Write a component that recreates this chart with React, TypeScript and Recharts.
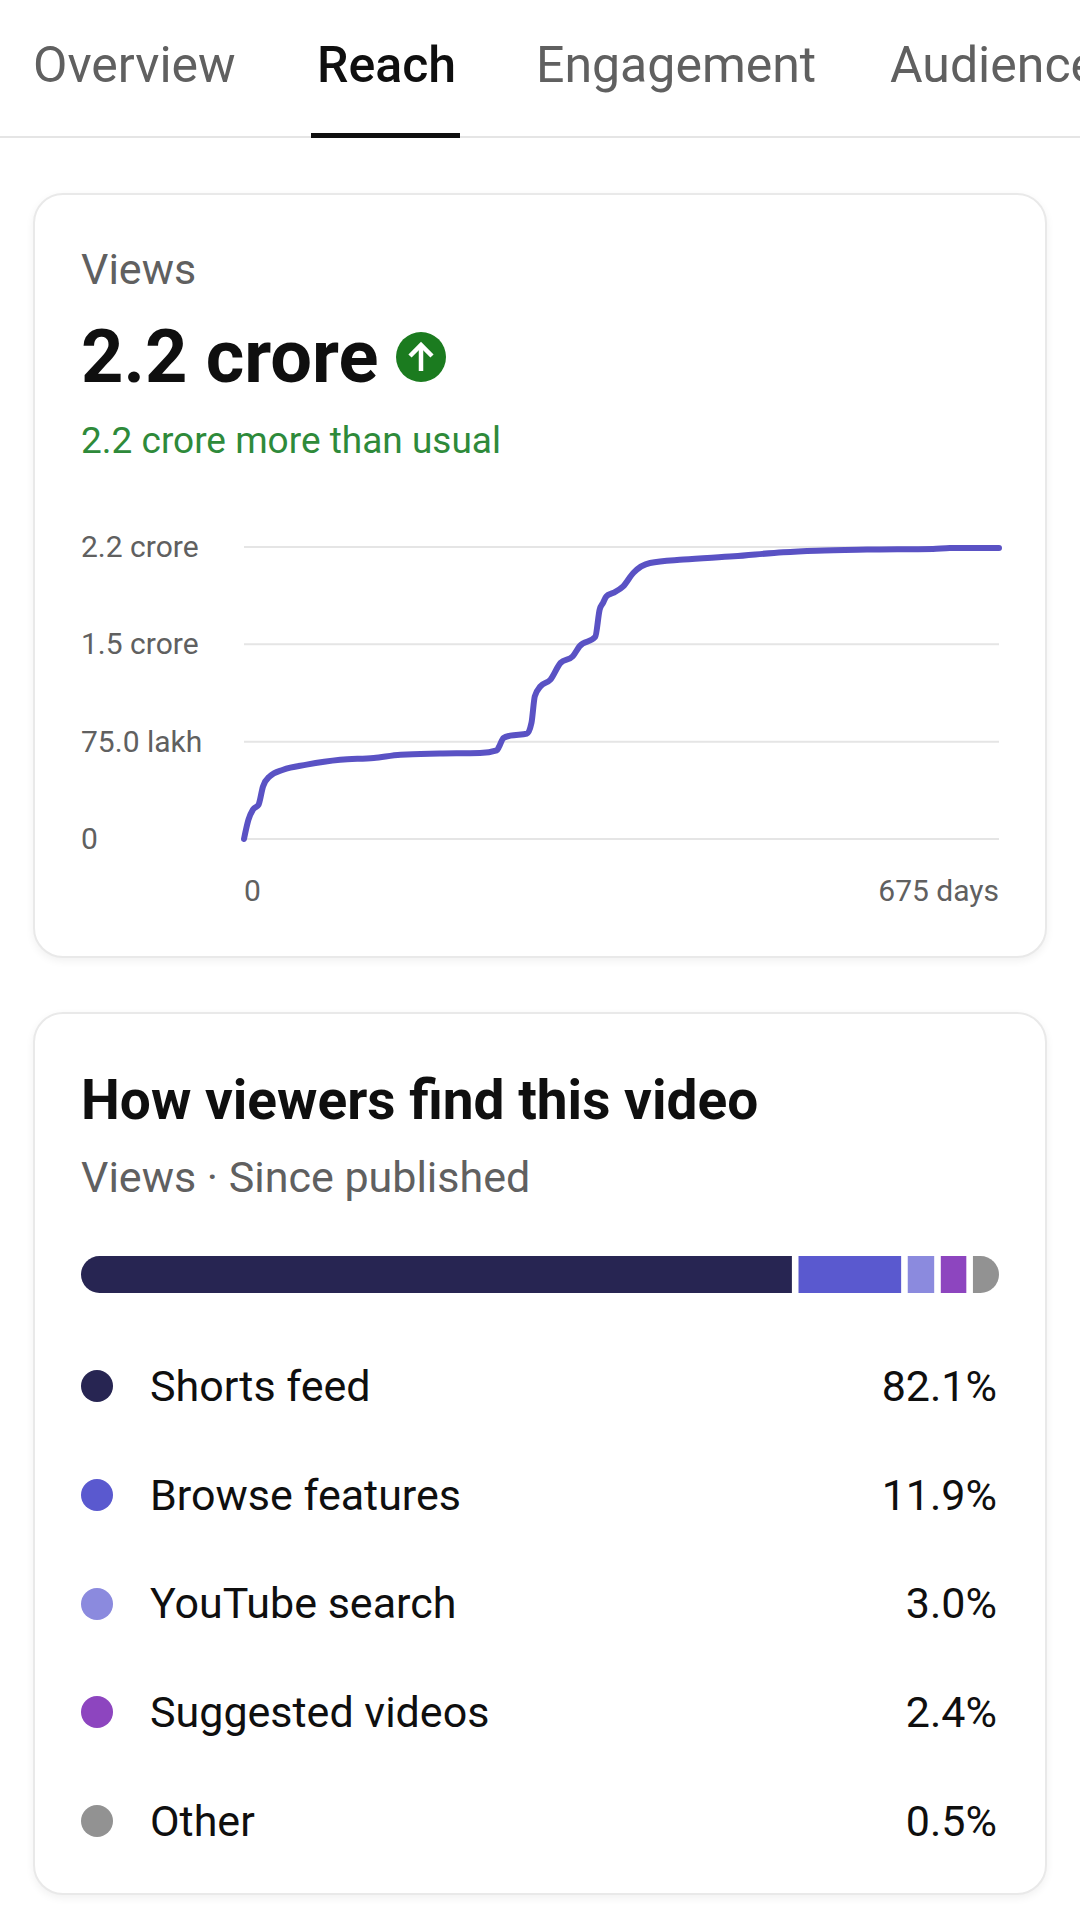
import React from "react";
import { LineChart, Line, XAxis, YAxis, CartesianGrid, BarChart, Bar } from "recharts";

// cumulative views (days since publish, views in lakh)
const days = [0, 4, 8, 13, 17, 23, 35, 56, 86, 116, 140, 175, 211, 226, 228, 232, 238, 253, 257, 260, 265, 274, 283, 294, 300, 314, 318, 321, 324, 330, 339, 348, 363, 393, 438, 482, 512, 557, 616, 631, 675];
const viewsLakh = [0, 14.9, 22.6, 26.4, 40.5, 48.3, 53.4, 57.3, 61.1, 62.4, 65.0, 65.8, 66.3, 68.3, 71.0, 77.9, 79.6, 81.2, 89.4, 110.0, 117.6, 122.8, 135.7, 140.8, 148.5, 155.7, 176.8, 182.0, 187.0, 189.6, 194.7, 205.0, 212.7, 215.3, 217.8, 221.0, 222.2, 223.0, 223.5, 224.3, 224.3];

const yTicks = [0, 75, 150, 225];
const yTickLabels = ["0", "75.0 lakh", "1.5 crore", "2.2 crore"];
const xTicks = [0, 675];
const xTickLabels = ["0", "675 days"];

const tabs = ["Overview", "Reach", "Engagement", "Audience"];
const tabLeft = [33, 317, 536, 890];

const sources = ["Shorts feed", "Browse features", "YouTube search", "Suggested videos", "Other"];
const sourcePct = [82.1, 11.9, 3.0, 2.4, 0.5];
// segment widths as drawn in the bar (small sources get a minimum width)
const sourceBarShare = [77.8, 11.9, 3.6, 3.5, 3.2];
const sourceColors = ["#272552", "#5a59cf", "#8b8ade", "#8d45bf", "#929292"];

const lineData = days.map((d, i) => ({ day: d, views: viewsLakh[i] }));
const barRow: Record<string, any> = { name: "views" };
sourceBarShare.forEach((v, i) => (barRow["s" + i] = v));
const barData = [barRow];

const FONT = "Roboto, 'Noto Sans', sans-serif";

const YTick = (props: any) => {
  const { y, payload } = props;
  const idx = yTicks.indexOf(payload.value);
  return (
    <text x={21} y={y} dy={10} textAnchor="start" fill="#606060" fontSize={30} fontFamily={FONT}>
      {yTickLabels[idx]}
    </text>
  );
};

const XTick = (props: any) => {
  const { x, y, payload } = props;
  const idx = xTicks.indexOf(payload.value);
  return (
    <text x={x} y={y} dy={60} textAnchor={idx === 0 ? "start" : "end"} fill="#606060" fontSize={30} fontFamily={FONT}>
      {xTickLabels[idx]}
    </text>
  );
};

const segmentShape = (i: number) => (props: any) => {
  const { x, y, width, height, fill } = props;
  const gap = 3.3;
  const r = height / 2;
  const last = sourceBarShare.length - 1;
  const left = i === 0 ? x : x + gap;
  const right = i === last ? x + width : x + width - gap;
  let d = "";
  if (i === 0) {
    d = `M${left + r},${y} H${right} V${y + height} H${left + r} A${r},${r} 0 0 1 ${left + r},${y} Z`;
  } else if (i === last) {
    d = `M${left},${y} H${right - r} A${r},${r} 0 0 1 ${right - r},${y + height} H${left} Z`;
  } else {
    d = `M${left},${y} H${right} V${y + height} H${left} Z`;
  }
  return <path d={d} fill={fill} />;
};

const cardStyle: React.CSSProperties = {
  position: "absolute",
  left: 33,
  width: 1014,
  boxSizing: "border-box",
  border: "2px solid #e9e9e9",
  borderRadius: 30,
  background: "#fff",
  boxShadow: "0 3px 8px rgba(0,0,0,0.06)",
};

const abs = (left: number, top: number, extra: React.CSSProperties = {}): React.CSSProperties => ({
  position: "absolute",
  left,
  top,
  lineHeight: 1,
  whiteSpace: "nowrap",
  ...extra,
});

export default function App() {
  return (
    <div style={{ position: "absolute", left: 0, top: 0, width: 1080, height: 1920, overflow: "hidden", background: "#fff", fontFamily: FONT }}>
      {/* tabs */}
      {tabs.map((t, i) => (
        <div key={t} style={abs(tabLeft[i], 40, { fontSize: 50, color: i === 1 ? "#0f0f0f" : "#606060", fontWeight: i === 1 ? 500 : 400 })}>
          {t}
        </div>
      ))}
      <div style={{ position: "absolute", left: 0, top: 136, width: 1080, height: 2, background: "#e5e5e5" }} />
      <div style={{ position: "absolute", left: 311, top: 133, width: 149, height: 5, background: "#0f0f0f" }} />

      {/* views card */}
      <div style={{ ...cardStyle, top: 193, height: 765 }} />
      <div style={abs(81, 248, { fontSize: 43, color: "#606060" })}>Views</div>
      <div style={abs(81, 320, { fontSize: 74, fontWeight: 700, color: "#0f0f0f" })}>2.2 crore</div>
      <div style={{ position: "absolute", left: 396, top: 332, width: 50, height: 50, borderRadius: 25, background: "#1b7b1f" }}>
        <svg width={50} height={50}>
          <line x1={25} y1={13} x2={25} y2={39} stroke="#fff" strokeWidth={4.5} />
          <polyline points="14,24 25,13 36,24" fill="none" stroke="#fff" strokeWidth={4.5} />
        </svg>
      </div>
      <div style={abs(81, 422, { fontSize: 37, color: "#2e8a3a" })}>2.2 crore more than usual</div>

      <div style={{ position: "absolute", left: 60, top: 520 }}>
        <LineChart width={960} height={410} data={lineData} margin={{ top: 27, right: 21, left: 0, bottom: 0 }}>
          <CartesianGrid vertical={false} stroke="#e5e5e5" strokeWidth={2} />
          <XAxis
            dataKey="day"
            type="number"
            domain={[0, 675]}
            ticks={xTicks}
            interval={0}
            axisLine={false}
            tickLine={false}
            tickSize={0}
            height={91}
            tick={<XTick />}
          />
          <YAxis
            type="number"
            domain={[0, 225]}
            ticks={yTicks}
            interval={0}
            axisLine={false}
            tickLine={false}
            width={184}
            tick={<YTick />}
          />
          <Line
            type="monotone"
            dataKey="views"
            stroke="#5a52c4"
            strokeWidth={6}
            dot={false}
            strokeLinejoin="round"
            strokeLinecap="round"
            isAnimationActive={false}
          />
        </LineChart>
      </div>

      {/* traffic sources card */}
      <div style={{ ...cardStyle, top: 1012, height: 883 }} />
      <div style={abs(81, 1073, { fontSize: 55, fontWeight: 700, color: "#0f0f0f" })}>How viewers find this video</div>
      <div style={abs(81, 1156, { fontSize: 43, color: "#606060" })}>Views · Since published</div>

      <div style={{ position: "absolute", left: 81, top: 1256 }}>
        <BarChart width={918} height={37} data={barData} layout="vertical" margin={{ top: 0, right: 0, left: 0, bottom: 0 }} barCategoryGap={0}>
          <XAxis type="number" domain={[0, 100]} hide />
          <YAxis type="category" dataKey="name" hide />
          {sourceBarShare.map((_, i) => (
            <Bar key={i} dataKey={"s" + i} stackId="a" fill={sourceColors[i]} shape={segmentShape(i)} isAnimationActive={false} />
          ))}
        </BarChart>
      </div>

      <div style={{ position: "absolute", left: 0, top: 1332, width: 1080 }}>
        {sources.map((s, i) => (
          <div key={s} style={{ position: "relative", height: 108.7, display: "flex", alignItems: "center" }}>
            <div style={{ position: "absolute", left: 81, width: 32, height: 32, borderRadius: 16, background: sourceColors[i] }} />
            <div style={{ position: "absolute", left: 150, fontSize: 43, lineHeight: 1, color: "#0f0f0f" }}>{s}</div>
            <div style={{ position: "absolute", right: 83, fontSize: 43, lineHeight: 1, color: "#0f0f0f" }}>{sourcePct[i].toFixed(1)}%</div>
          </div>
        ))}
      </div>
    </div>
  );
}
